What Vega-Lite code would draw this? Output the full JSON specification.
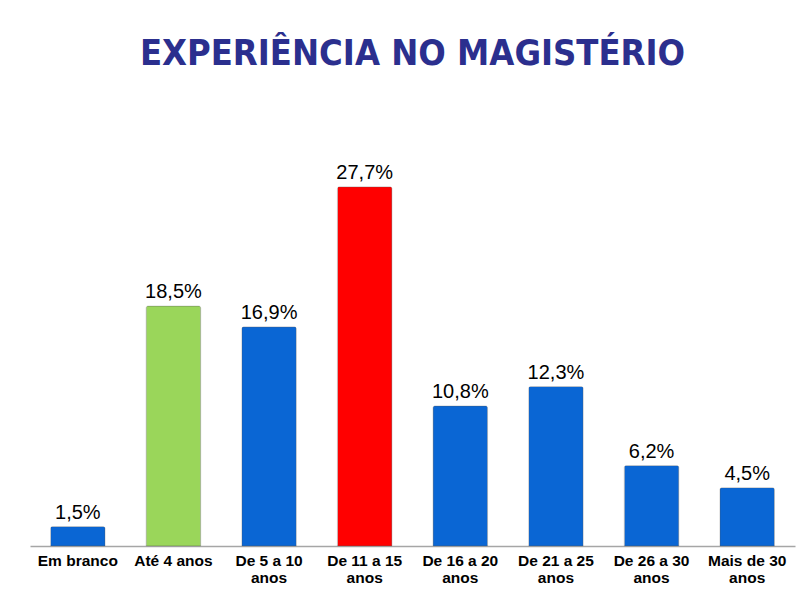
{
  "$schema": "https://vega.github.io/schema/vega-lite/v6.json",
  "autosize": {"type": "none"},
  "width": 765,
  "height": 389,
  "padding": {"left": 30, "top": 157, "right": 8, "bottom": 68},
  "background": "white",
  "config": {
    "view": {"stroke": null},
    "locale": {"number": {"decimal": ",", "thousands": ".", "grouping": [3], "currency": ["R$", ""]}}
  },
  "title": {
    "text": "EXPERIÊNCIA NO MAGISTÉRIO",
    "font": "DejaVu Sans Condensed, Liberation Sans Narrow, sans-serif",
    "fontWeight": "bold",
    "fontSize": 36,
    "color": "#2B2F8E",
    "anchor": "middle",
    "offset": 84
  },
  "data": {
    "values": [
      {"faixa": "Em branco", "pct": 0.015, "grupo": "azul"},
      {"faixa": "Até 4 anos", "pct": 0.185, "grupo": "verde"},
      {"faixa": "De 5 a 10 anos", "pct": 0.169, "grupo": "azul"},
      {"faixa": "De 11 a 15 anos", "pct": 0.277, "grupo": "vermelho"},
      {"faixa": "De 16 a 20 anos", "pct": 0.108, "grupo": "azul"},
      {"faixa": "De 21 a 25 anos", "pct": 0.123, "grupo": "azul"},
      {"faixa": "De 26 a 30 anos", "pct": 0.062, "grupo": "azul"},
      {"faixa": "Mais de 30 anos", "pct": 0.045, "grupo": "azul"}
    ]
  },
  "encoding": {
    "x": {
      "field": "faixa",
      "type": "nominal",
      "sort": null,
      "scale": {"paddingInner": 0.43, "paddingOuter": 0.215},
      "axis": {
        "title": null,
        "labelAngle": 0,
        "labelFont": "Liberation Sans",
        "labelFontWeight": "bold",
        "labelFontSize": 15.5,
        "labelColor": "#000000",
        "labelPadding": 7,
        "labelLineHeight": 17,
        "labelExpr": "indexof(datum.value, 'De ') == 0 || indexof(datum.value, 'Mais') == 0 ? [slice(datum.value, 0, lastindexof(datum.value, ' ')), 'anos'] : datum.value",
        "ticks": false,
        "domainColor": "#A6A6A6",
        "domainWidth": 1.5
      }
    },
    "y": {
      "field": "pct",
      "type": "quantitative",
      "scale": {"domain": [0, 0.3], "nice": false},
      "axis": null
    }
  },
  "layer": [
    {
      "mark": {"type": "bar", "strokeWidth": 1, "stroke": "#5a5a5a", "strokeOpacity": 0.25, "cornerRadiusTopLeft": 2, "cornerRadiusTopRight": 2},
      "encoding": {
        "color": {
          "field": "grupo",
          "type": "nominal",
          "scale": {"domain": ["azul", "verde", "vermelho"], "range": ["#0A66D4", "#9AD65A", "#FF0000"]},
          "legend": null
        }
      }
    },
    {
      "mark": {"type": "text", "baseline": "alphabetic", "dy": -8, "font": "Liberation Sans", "fontSize": 20, "color": "#000000"},
      "encoding": {
        "text": {"field": "pct", "type": "quantitative", "format": ".1%"}
      }
    }
  ]
}
